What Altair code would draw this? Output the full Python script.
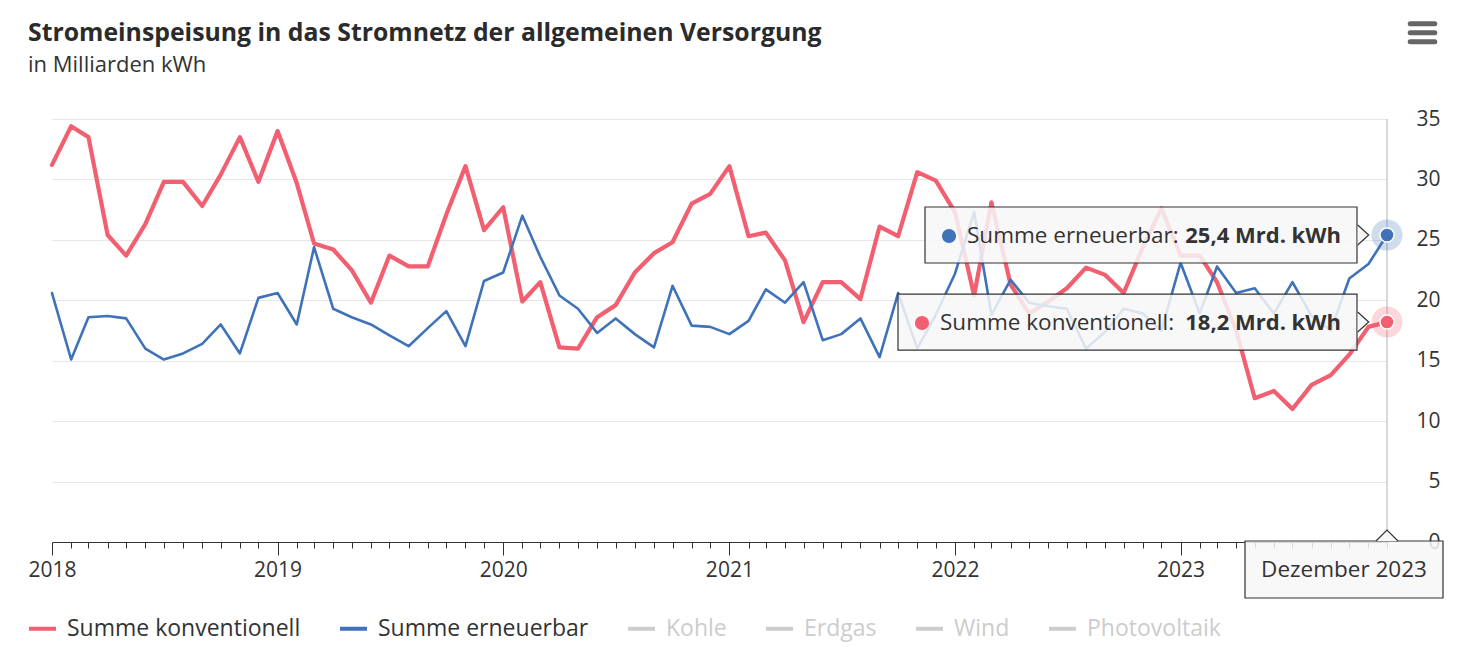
import altair as alt
import pandas as pd

FONT = "Open Sans"
TEXT = "#333333"

years = [2018, 2019, 2020, 2021, 2022, 2023]
month_names = ["Januar", "Februar", "März", "April", "Mai", "Juni", "Juli",
               "August", "September", "Oktober", "November", "Dezember"]
dates = [f"{y}-{m:02d}-01" for y in years for m in range(1, 13)]

konventionell = [
    31.2, 34.4, 33.5, 25.4, 23.7, 26.3, 29.8, 29.8, 27.8, 30.4, 33.5, 29.8,
    34.0, 29.7, 24.7, 24.2, 22.5, 19.8, 23.7, 22.8, 22.8, 27.1, 31.1, 25.8,
    27.7, 19.9, 21.5, 16.1, 16.0, 18.6, 19.6, 22.3, 23.9, 24.8, 28.0, 28.8,
    31.1, 25.3, 25.6, 23.3, 18.2, 21.5, 21.5, 20.1, 26.1, 25.3, 30.6, 29.9,
    27.3, 20.4, 28.1, 21.3, 18.9, 19.9, 21.0, 22.7, 22.1, 20.6, 24.4, 27.6,
    23.7, 23.7, 21.5, 17.5, 11.9, 12.5, 11.0, 13.0, 13.8, 15.5, 17.8, 18.2,
]
erneuerbar = [
    20.6, 15.1, 18.6, 18.7, 18.5, 16.0, 15.1, 15.6, 16.4, 18.0, 15.6, 20.2,
    20.6, 18.0, 24.4, 19.3, 18.6, 18.0, 17.1, 16.2, 17.7, 19.1, 16.2, 21.6,
    22.3, 27.0, 23.6, 20.4, 19.3, 17.3, 18.5, 17.2, 16.1, 21.2, 17.9, 17.8,
    17.2, 18.3, 20.9, 19.8, 21.5, 16.7, 17.2, 18.5, 15.3, 20.6, 16.0, 18.8,
    22.2, 27.3, 18.8, 21.7, 19.8, 19.5, 19.3, 16.0, 17.4, 19.3, 18.9, 17.5,
    23.1, 18.9, 22.8, 20.6, 21.0, 18.9, 21.5, 18.7, 17.5, 21.8, 23.0, 25.4,
]

series = ["Summe konventionell", "Summe erneuerbar"]
hidden_series = ["Kohle", "Erdgas", "Wind", "Photovoltaik"]
series_colors = ["#f15f70", "#3f72b8"]
hidden_color = "#cccccc"
line_widths = [4.2, 2.6]
y_ticks = [0, 5, 10, 15, 20, 25, 30, 35]

rows = []
for name, vals in zip(series, [konventionell, erneuerbar]):
    for d, v in zip(dates, vals):
        rows.append({"date": d, "series": name, "value": v})
df = pd.DataFrame(rows)


def fmt(v):
    return f"{v:.1f}".replace(".", ",") + " Mrd. kWh"


last_date = dates[-1]
last_vals = [konventionell[-1], erneuerbar[-1]]
last_df = pd.DataFrame({
    "date": [last_date, last_date],
    "series": series,
    "value": last_vals,
    "name": [s + ":" for s in series],
    "valtxt": [fmt(v) for v in last_vals],
})
date_df = pd.DataFrame({"date": [last_date],
                        "label": [f"{month_names[11]} {years[-1]}"]})

tick_ms = [int(pd.Timestamp(d, tz="UTC").value // 10**6) for d in dates]
x_scale = alt.Scale(domain=[tick_ms[0], tick_ms[-1]])
y_scale = alt.Scale(domain=[0, 35])
color_scale = alt.Scale(domain=series + hidden_series,
                        range=series_colors + [hidden_color] * 4)

x_axis = alt.Axis(
    values=tick_ms, title=None, grid=False,
    labelExpr="utcmonth(datum.value) == 0 ? utcFormat(datum.value, '%Y') : ''",
    tickSize={"condition": {"test": "utcmonth(datum.value) == 0", "value": 13}, "value": 6},
    tickColor=TEXT, domainColor=TEXT, tickWidth=1, domainWidth=1.2,
    labelFont=FONT, labelFontSize=21, labelColor=TEXT, labelPadding=4,
    labelOverlap=False, labelFlush=False,
)
y_axis = alt.Axis(
    orient="right", values=y_ticks, title=None, domain=False, ticks=False,
    gridColor="#e6e6e6", gridWidth=1, labelAlign="right", labelBaseline="middle",
    labelPadding=53, labelFont=FONT, labelFontSize=21, labelColor=TEXT,
)
legend = alt.Legend(
    orient="none", legendX=-25, legendY=494, direction="horizontal", title=None,
    symbolType="stroke", symbolStrokeWidth=4, symbolSize=729, symbolOpacity=1, padding=0,
    labelFont=FONT, labelFontSize=23, labelOffset=9, columnPadding=31, labelLimit=500,
    labelColor={"expr": "indexof(['Kohle','Erdgas','Wind','Photovoltaik'], datum.value) >= 0 ? '#cccccc' : '#333333'"},
)

X = alt.X("date:T", scale=x_scale, axis=x_axis)
Y = alt.Y("value:Q", scale=y_scale, axis=y_axis)
C = alt.Color("series:N", scale=color_scale, legend=legend)

crosshair = alt.Chart(date_df).mark_rule(color="#cccccc", strokeWidth=1.5).encode(x=X)

lines = alt.Chart(df).mark_line(strokeJoin="round", strokeCap="round", opacity=1).encode(
    x=X, y=Y, color=C,
    strokeWidth=alt.StrokeWidth("series:N", scale=alt.Scale(domain=series, range=line_widths), legend=None),
)

halos = alt.Chart(last_df).mark_circle(size=960, opacity=0.25).encode(x=X, y=Y, color=C)
dots = alt.Chart(last_df).mark_circle(size=200, opacity=1, stroke="white", strokeWidth=1.5).encode(
    x=X, y=Y, color=C)


def tooltip(name, text_dx):
    src = alt.Chart(last_df).transform_filter(alt.datum.series == name)
    box = src.mark_rect(fill="#f7f7f7", fillOpacity=0.85, stroke=TEXT, strokeWidth=1.2,
                        xOffset=text_dx - 42, x2Offset=-30, yOffset=-28, y2Offset=28).encode(
        x=X, x2="date:T", y=Y, y2="value:Q")
    arrow = src.mark_point(shape="M 0 -0.91 L 1 0 L 0 0.91", size=484, filled=True,
                           fill="#f7f7f7", fillOpacity=1, stroke=TEXT, strokeWidth=1.2,
                           opacity=1, xOffset=-29.3).encode(x=X, y=Y)
    dot = src.mark_circle(size=200, opacity=1, xOffset=text_dx - 18, yOffset=1).encode(x=X, y=Y, color=C)
    t1 = src.mark_text(align="left", baseline="middle", dx=text_dx, dy=1, font=FONT,
                       fontSize=22.5, color=TEXT).encode(x=X, y=Y, text="name:N")
    t2 = src.mark_text(align="right", baseline="middle", dx=-46, dy=1, font=FONT,
                       fontSize=22, fontWeight="bold", color=TEXT).encode(x=X, y=Y, text="valtxt:N")
    return [box, arrow, dot, t1, t2]


tips = tooltip(series[0], -447) + tooltip(series[1], -420)

dsrc = alt.Chart(date_df)
dbox = dsrc.mark_rect(fill="#f7f7f7", fillOpacity=0.85, stroke=TEXT, strokeWidth=1.2,
                      xOffset=-142, x2Offset=56, yOffset=-1, y2Offset=56).encode(
    x=X, x2="date:T", y=alt.datum(0), y2=alt.datum(0))
darrow = dsrc.mark_point(shape="M -1 0 L 0 -1 L 1 0", size=484, filled=True, fill="#f7f7f7",
                         fillOpacity=1, stroke=TEXT, strokeWidth=1.2, opacity=1, yOffset=-1).encode(
    x=X, y=alt.datum(0))
dtext = dsrc.mark_text(align="center", baseline="middle", dx=-43, dy=28, font=FONT,
                       fontSize=22.5, color=TEXT).encode(x=X, y=alt.datum(0), text="label:N")

menu_df = pd.DataFrame({"bar": [0]})
menu = []
for yy in [-95.3, -86.3, -77.3]:
    menu.append(alt.Chart(menu_df).mark_rule(strokeWidth=5, strokeCap="round", color="#666666").encode(
        x=alt.value(1358.2), x2=alt.value(1382.8), y=alt.value(yy)))

chart = alt.layer(crosshair, lines, halos, dots, *tips, dbox, darrow, dtext, *menu).properties(
    width=1335, height=423,
    padding={"left": 44, "top": 111, "right": 64, "bottom": 110},
    autosize=alt.AutoSizeParams(type="none"),
    title=alt.TitleParams(
        text="Stromeinspeisung in das Stromnetz der allgemeinen Versorgung",
        subtitle="in Milliarden kWh", anchor="start", frame="group", dx=-24, dy=95, offset=40,
        font=FONT, fontSize=24.8, fontWeight="bold", color="#2b2b2b",
        subtitleFont=FONT, subtitleFontSize=22, subtitleColor=TEXT, subtitlePadding=9,
    ),
).configure_view(strokeOpacity=0)

chart.save("out.html", embed_options={"renderer": "svg", "actions": False})
